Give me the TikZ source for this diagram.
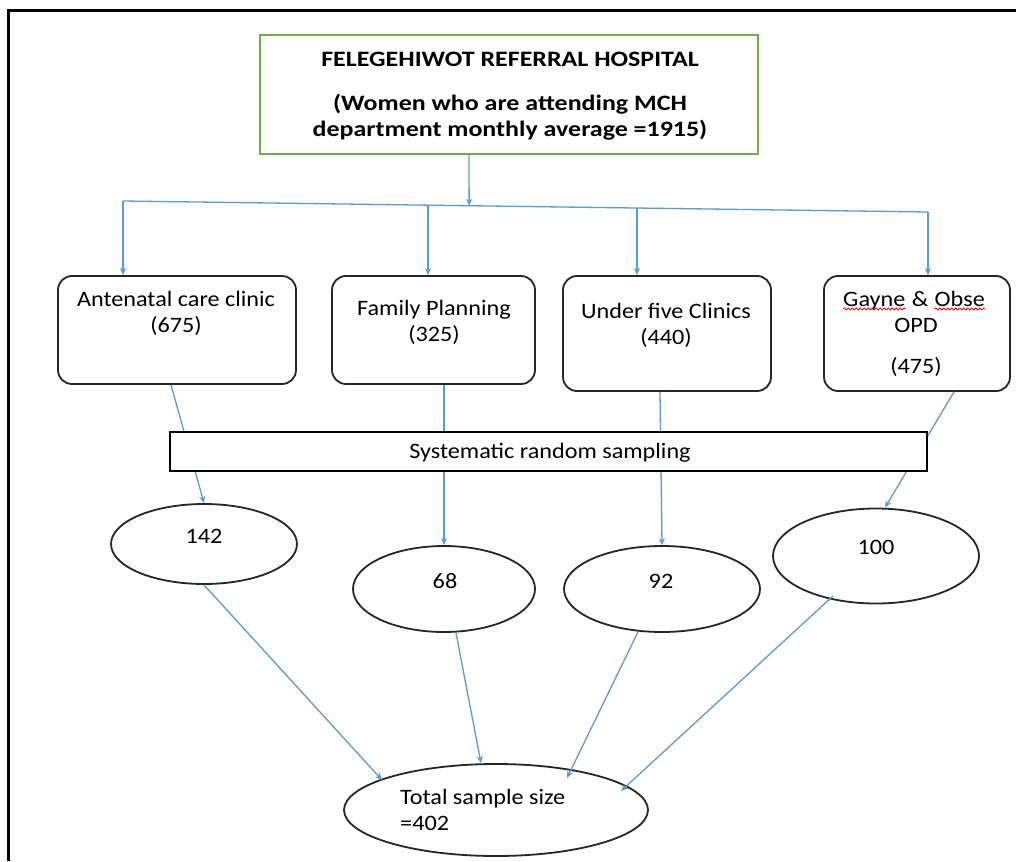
\documentclass[tikz,border=0pt]{standalone}
\usepackage{fontspec}
\setmainfont{Carlito}[FakeStretch=1.1]
\newfontfamily\titlefont{Carlito}[FakeStretch=1.18]
\usetikzlibrary{arrows.meta,calc,decorations.pathmorphing,shapes.geometric}
\definecolor{lblue}{HTML}{5B9BD5}
\definecolor{lgreen}{HTML}{70AD47}
\newcommand{\tsz}{\fontsize{22}{26}\selectfont}
\begin{document}
\begin{tikzpicture}[x=1pt,y=1pt,
  arr/.style={draw=lblue,line width=1.3pt,-{Stealth[length=7pt,width=6pt]}},
  ln/.style={draw=lblue,line width=1.3pt},
  clinic/.style={draw=black!85,line width=1.8pt,rounded corners=14pt,fill=white,inner sep=0pt},
  oval/.style={draw=black!85,line width=1.8pt,ellipse,inner sep=0pt,fill=white},
  txt/.style={font=\tsz,align=center,inner sep=0pt},
  btxt/.style={font=\titlefont\tsz\bfseries,align=center,inner sep=0pt},
  squig/.style={draw=red,line width=0.8pt,decorate,decoration={snake,amplitude=1.1pt,segment length=4pt}}
]
\useasboundingbox (0,0) rectangle (1016,-861);
\fill[white] (0,0) rectangle (1016,-861);
\draw[line width=3pt] (8,-861) -- (8,-11) -- (1016,-11);

% top box
\node[draw=lgreen,line width=1.8pt,minimum width=498pt,minimum height=119pt,inner sep=0pt] (top) at (509,-94.5) {};
\node[btxt] (t1) at (510,-59) {FELEGEHIWOT REFERRAL HOSPITAL};
\node[btxt] (t2) at (510,-117.5) {(Women who are attending MCH\\department monthly average =1915)};

% clinic boxes
\node[clinic,minimum width=238pt,minimum height=108pt] (a1) at (177,-330) {};
\node[clinic,minimum width=203pt,minimum height=108pt] (a2) at (433.5,-330) {};
\node[clinic,minimum width=208pt,minimum height=115pt] (a3) at (667,-333.5) {};
\node[clinic,minimum width=186pt,minimum height=115pt] (a4) at (917,-333.5) {};
\node[txt] (a1t) at (176,-313) {Antenatal care clinic\\(675)};
\node[txt] (a2t) at (434,-322) {Family Planning\\(325)};
\node[txt] (a3t) at (666,-325) {Under five Clinics\\(440)};
\node[txt,anchor=base] (amp) at (920,-306) {\&};
\node[txt,anchor=base east] (gy) at ([xshift=-6pt]amp.base west) {Gayne};
\node[txt,anchor=base west] (ob) at ([xshift=6pt]amp.base east) {Obse};
\node[txt] (a4t) at (916,-347.5) {OPD\\[15pt](475)};
\draw[squig] ([yshift=-3pt]gy.base west) -- ([yshift=-3pt]gy.base east);
\draw[squig] ([yshift=-3pt]ob.base west) -- ([yshift=-3pt]ob.base east);

% branching
\coordinate (b1) at (123,-201);
\coordinate (b4) at (928,-212);
\draw[ln] (b1) -- (b4);
\draw[arr] ([xshift=-40pt]top.south) -- ($(b1)!0.43!(b4)$);
\coordinate (b2) at ($(b1)!0.379!(b4)$);
\coordinate (b3) at ($(b1)!0.6385!(b4)$);
\draw[arr] (b1) -- (b1 |- a1.north);
\draw[arr] (b2) -- (b2 |- a2.north);
\draw[arr] (b3) -- (b3 |- a3.north);
\draw[arr] (b4) -- (b4 |- a4.north);

% ellipses
\node[oval,minimum width=186pt,minimum height=80pt] (e1) at (204,-544) {};
\node[oval,minimum width=182pt,minimum height=86pt] (e2) at (444,-589) {};
\node[oval,minimum width=196pt,minimum height=86pt] (e3) at (662,-589) {};
\node[oval,minimum width=206pt,minimum height=95pt] (e4) at (876,-556) {};
\node[oval,minimum width=304pt,minimum height=92pt] (t) at (496,-810) {};
\node[txt] (e1t) at (204,-536) {142};
\node[txt] (e2t) at (445,-581) {68};
\node[txt] (e3t) at (661,-581) {92};
\node[txt] (e4t) at (876,-547) {100};
\node[txt,align=left,anchor=west] (tt) at (400,-810) {Total sample size\\=402};

% clinic to ellipse arrows (behind sampling box)
\draw[arr] ([xshift=-6pt]a1.south) -- (e1.north);
\draw[arr] ([xshift=10.5pt]a2.south) -- (e2.north);
\draw[arr] ([xshift=-7pt]a3.south) -- (e3.north);
\draw[arr] ([xshift=37pt]a4.south) -- ([xshift=9pt]e4.north);

% sampling box
\node[draw=black,line width=1.8pt,fill=white,minimum width=757pt,minimum height=39pt,inner sep=0pt] (s) at (548.5,-451.5) {};
\node[txt] (st) at (550,-453) {Systematic random sampling};

% ellipse to total arrows
\draw[arr] (e1.south) -- ($(t.center)+(-114,30)$);
\draw[arr] ([xshift=12pt]e2.south) -- ($(t.center)+(-15,47)$);
\draw[arr] ([xshift=-24pt,yshift=1pt]e3.south) -- ($(t.center)+(71,32)$);
\draw[arr] ($(e4.center)+(-43,-40)$) -- ($(t.center)+(125,19)$);
\end{tikzpicture}
\end{document}
